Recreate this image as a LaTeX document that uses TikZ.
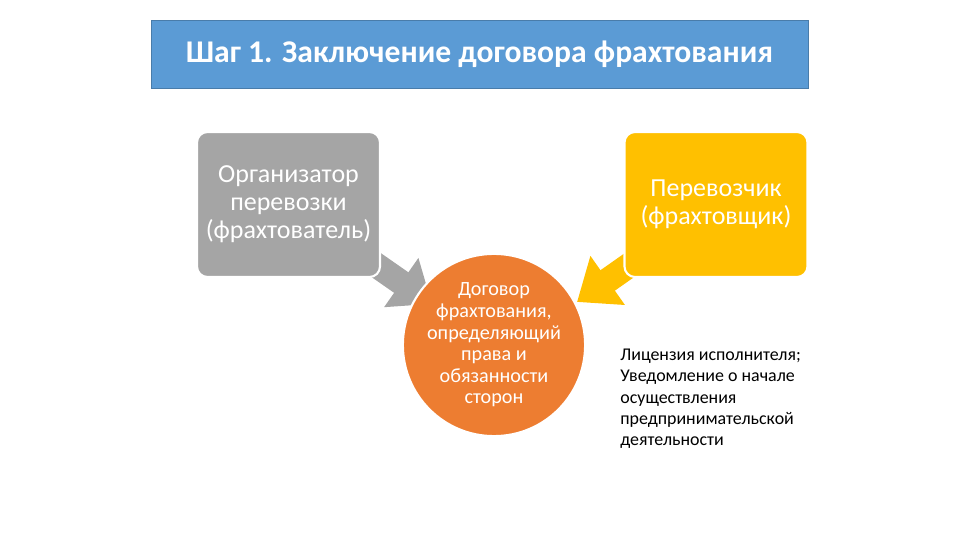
\documentclass[tikz,border=0pt]{standalone}
\usepackage{fontspec}
\setmainfont{Carlito}
\usetikzlibrary{arrows.meta}
\definecolor{titleblue}{HTML}{5B9BD5}
\definecolor{boxgray}{HTML}{A5A5A5}
\definecolor{boxyellow}{HTML}{FFC000}
\definecolor{circorange}{HTML}{ED7D31}
\begin{document}
\begin{tikzpicture}[x=0.02cm,y=-0.02cm,
    party/.style={rounded corners=6pt,draw=white,line width=1.2pt,
      minimum width=183*0.02cm,minimum height=145*0.02cm,
      text=white,align=center,font=\fontsize{14.8}{16}\selectfont},
    flow/.style={line width=0.5cm,-{Triangle[length=0.75cm,width=1.15cm]}}]
  \useasboundingbox (0,0) rectangle (960,540);
  % Title bar
  \node (title) [fill=titleblue,draw=titleblue!80!black,minimum width=657*0.02cm,
    minimum height=68*0.02cm,text=white,font=\bfseries\fontsize{18}{20}\selectfont]
    at (479.5,54) {Шаг 1. Заключение договора фрахтования};
  % Block arrows towards the contract
  \coordinate (gtip) at (432,304);
  \coordinate (ytip) at (577,302);
  \coordinate (gstart) at (300,212);
  \coordinate (ystart) at (705,212);
  \draw [flow,boxgray] (gstart) -- (gtip);
  \draw [flow,boxyellow] (ystart) -- (ytip);
  % The two parties
  \node (charterer) [party,fill=boxgray] at (288.5,204.5)
    {Организатор\\перевозки\\(фрахтователь)};
  \node (carrier) [party,fill=boxyellow] at (716,204.5)
    {Перевозчик\\(фрахтовщик)};
  % The contract
  \node (contract) [circle,fill=circorange,draw=white,line width=1.2pt,
    minimum size=176*0.02cm,text=white,align=center,inner sep=0pt,
    font=\fontsize{11.5}{12.3}\selectfont] at (494,345)
    {Договор\\фрахтования,\\определяющий\\права и\\обязанности\\сторон};
  % Notes
  \node (notes) [anchor=north west,align=left,inner sep=0pt,
    font=\fontsize{10.2}{12}\selectfont] at (620,349)
    {Лицензия исполнителя;\\Уведомление о начале\\осуществления\\предпринимательской\\деятельности};
\end{tikzpicture}
\end{document}
